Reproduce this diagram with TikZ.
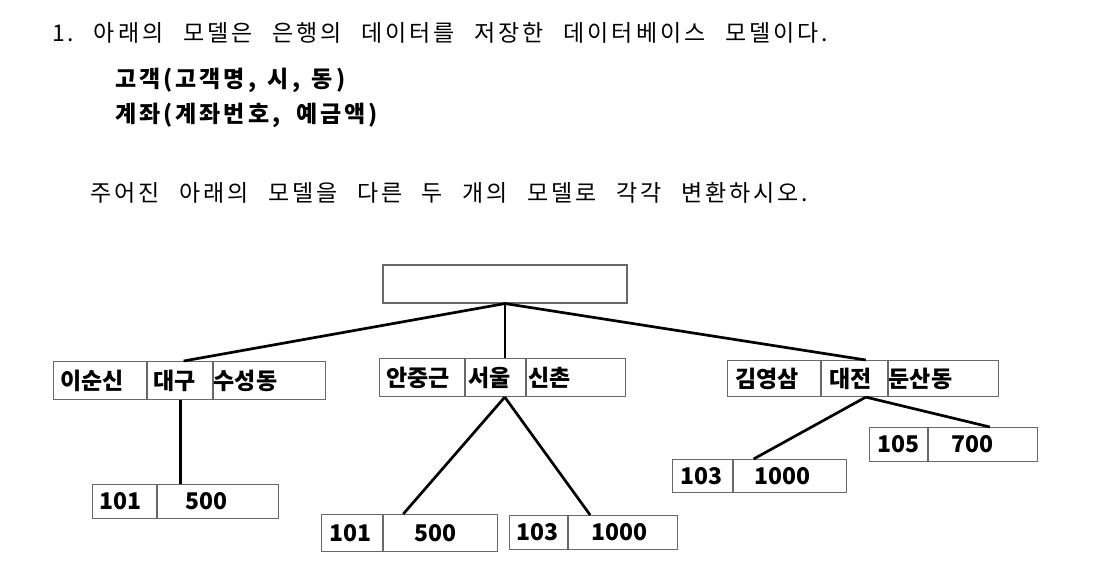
\documentclass[tikz,border=0pt]{standalone}
\usepackage{fontspec}
\setmainfont{Noto Sans CJK KR}
\newfontfamily\qfont[LetterSpace=13, BoldFeatures={LetterSpace=13}]{Noto Sans CJK KR}
\usetikzlibrary{positioning}

\definecolor{boxgray}{RGB}{105,105,105}

\tikzset{
  cell/.style 2 args={draw=boxgray, line width=1.1pt, anchor=north west,
    minimum width=#1, text width={#1-2*#2}, inner xsep=#2, inner ysep=0pt,
    align=left, font=\fontsize{23}{26}\selectfont\bfseries},
  link/.style={line width=2.7pt, black},
  line/.style={anchor=base west, inner sep=0pt,
    font=\fontsize{23}{26}\selectfont\qfont\frenchspacing}
}

\begin{document}
\begin{tikzpicture}[x=1pt, y=-1pt]
  \useasboundingbox (0,0) rectangle (1113,581);

  % question text
  \node[line] (q1) at (52,41) {\makebox[776pt][s]{1. 아래의 모델은 은행의 데이터를 저장한 데이터베이스 모델이다.}};
  \node[line, font=\fontsize{23}{26}\selectfont\qfont\bfseries\frenchspacing] (q2) at (115,87) {\makebox[230pt][s]{고객(고객명, 시, 동)}};
  \node[line, font=\fontsize{23}{26}\selectfont\qfont\bfseries\frenchspacing] (q3) at (115,122) {\makebox[263pt][s]{계좌(계좌번호, 예금액)}};
  \node[line] (q4) at (90,201) {\makebox[718pt][s]{주어진 아래의 모델을 다른 두 개의 모델로 각각 변환하시오.}};

  % root
  \node[draw=boxgray, line width=1.1pt, minimum width=244pt, minimum height=38pt,
        inner sep=0pt] (root) at (505,284) {};

  % customers
  \node[cell={93pt}{7pt}, minimum height=38pt] (lee name) at (53,361) {이순신};
  \node[cell={65pt}{6pt}, minimum height=38pt, right=0pt of lee name] (lee city) {대구};
  \node[cell={112pt}{0pt}, minimum height=38pt, right=0pt of lee city] (lee dong) {수성동};

  \node[cell={85pt}{7pt}, minimum height=38pt] (ahn name) at (379,358) {안중근};
  \node[cell={60pt}{3pt}, minimum height=38pt, right=0pt of ahn name] (ahn city) {서울};
  \node[cell={99pt}{2pt}, minimum height=38pt, right=0pt of ahn city] (ahn dong) {신촌};

  \node[cell={93pt}{8pt}, minimum height=36pt] (kim name) at (727,360) {김영삼};
  \node[cell={66pt}{8pt}, minimum height=36pt, right=0pt of kim name] (kim city) {대전};
  \node[cell={110pt}{0pt}, minimum height=36pt, right=0pt of kim city] (kim dong) {둔산동};

  % accounts
  \node[cell={64pt}{7pt}, minimum height=34pt] (lee no) at (92,484) {101};
  \node[cell={121pt}{28pt}, minimum height=34pt, right=0pt of lee no] (lee amt) {500};

  \node[cell={61pt}{8pt}, minimum height=37pt] (ahn no1) at (321,514) {101};
  \node[cell={114pt}{31pt}, minimum height=37pt, right=0pt of ahn no1] (ahn amt1) {500};
  \node[cell={58pt}{7pt}, minimum height=34pt] (ahn no2) at (509,515) {103};
  \node[cell={109pt}{23pt}, minimum height=34pt, right=0pt of ahn no2] (ahn amt2) {1000};

  \node[cell={60pt}{8pt}, minimum height=33pt] (kim no1) at (672,459) {103};
  \node[cell={113pt}{21pt}, minimum height=33pt, right=0pt of kim no1] (kim amt1) {1000};
  \node[cell={58pt}{8pt}, minimum height=34pt] (kim no2) at (869,427) {105};
  \node[cell={109pt}{23pt}, minimum height=34pt, right=0pt of kim no2] (kim amt2) {700};

  % links
  \draw[link] (root.south) -- (lee city.80);
  \draw[link] (root.south) -- (root.south |- ahn city.north);
  \draw[link] (root.south) -- (kim city.59);
  \draw[link] (lee city.south) -- (lee city.south |- lee amt.north);
  \draw[link] (ahn city.-65) -- (ahn amt1.153);
  \draw[link] (ahn city.-65) -- (ahn amt2.152);
  \draw[link] (kim city.-59) -- (kim amt1.155);
  \draw[link] (kim city.-59) -- (kim amt2.69);
\end{tikzpicture}
\end{document}
